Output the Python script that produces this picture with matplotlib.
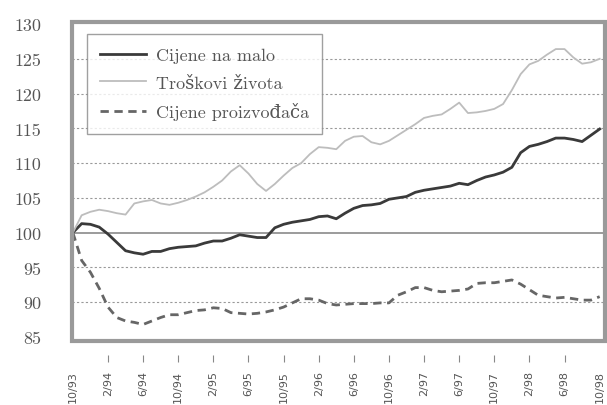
import matplotlib
matplotlib.use("Agg")
import matplotlib.pyplot as plt
from matplotlib.patches import Rectangle

months = list(range(61))
tick_labels = ["10/93", "2/94", "6/94", "10/94", "2/95", "6/95", "10/95", "2/96",
               "6/96", "10/96", "2/97", "6/97", "10/97", "2/98", "6/98", "10/98"]

cijene_malo = [100.0, 101.3, 101.2, 100.8, 99.8, 98.6, 97.4, 97.1, 96.9, 97.3,
               97.3, 97.7, 97.9, 98.0, 98.1, 98.5, 98.8, 98.8, 99.2, 99.7,
               99.5, 99.3, 99.3, 100.7, 101.2, 101.5, 101.7, 101.9, 102.3, 102.4,
               102.0, 102.8, 103.5, 103.9, 104.0, 104.2, 104.8, 105.0, 105.2, 105.8,
               106.1, 106.3, 106.5, 106.7, 107.1, 106.9, 107.5, 108.0, 108.3, 108.7,
               109.4, 111.5, 112.4, 112.7, 113.1, 113.6, 113.6, 113.4, 113.1, 114.0,
               114.9]

troskovi = [100.0, 102.5, 103.0, 103.3, 103.1, 102.8, 102.6, 104.2, 104.5, 104.7,
            104.2, 104.0, 104.3, 104.7, 105.2, 105.8, 106.6, 107.5, 108.8, 109.7,
            108.5, 107.0, 106.0, 107.0, 108.2, 109.3, 110.0, 111.3, 112.3, 112.2,
            112.0, 113.2, 113.8, 113.9, 113.0, 112.7, 113.2, 114.0, 114.8, 115.6,
            116.5, 116.8, 117.0, 117.8, 118.7, 117.2, 117.3, 117.5, 117.8, 118.5,
            120.5, 122.8, 124.2, 124.7, 125.6, 126.4, 126.4, 125.2, 124.3, 124.5,
            125.0]

proizvodaci = [100.0, 96.0, 94.3, 92.0, 89.3, 87.8, 87.3, 87.1, 86.8, 87.3,
               87.8, 88.2, 88.2, 88.5, 88.8, 88.9, 89.2, 89.1, 88.5, 88.4,
               88.3, 88.4, 88.6, 88.9, 89.3, 89.9, 90.5, 90.5, 90.3, 89.8,
               89.6, 89.7, 89.8, 89.8, 89.8, 89.9, 89.9, 91.0, 91.5, 92.1,
               92.1, 91.7, 91.5, 91.6, 91.7, 91.9, 92.7, 92.8, 92.8, 93.0,
               93.2, 92.6, 91.8, 91.0, 90.8, 90.6, 90.7, 90.5, 90.3, 90.3,
               90.8]

yticks = [85, 90, 95, 100, 105, 110, 115, 120, 125, 130]
serif = ["cmr10", "DejaVu Serif"]

fig = plt.figure(figsize=(6.07, 4.06), dpi=100)
ax = fig.add_axes([0.1186, 0.1576, 0.878, 0.7857])

# grid lines
for v in [90, 95, 105, 110, 115, 120, 125]:
    ax.axhline(v, color="#999999", lw=0.8, ls=(0, (2, 2)), zorder=1)
ax.axhline(100, color="#8a8a8a", lw=1.2, zorder=1)

ax.plot(months, cijene_malo, color="#3a3a3a", lw=2.0, label="Cijene na malo", zorder=3)
ax.plot(months, troskovi, color="#bdbdbd", lw=1.3, label="Troškovi života", zorder=3)
ax.plot(months, proizvodaci, color="#666666", lw=2.0, ls=(0, (3, 2)),
        label="Cijene proizvođača", zorder=3)

ax.set_xlim(-0.1, 60.6)
ax.set_ylim(84.42, 130.29)

for s in ax.spines.values():
    s.set_visible(False)
ax.add_patch(Rectangle((0, 0), 1, 1, transform=ax.transAxes, fill=False,
                       edgecolor="#9a9a9a", lw=3, clip_on=False, zorder=5))
ax.spines["bottom"].set_position(("outward", 10))

ax.set_xticks(months[::4])
ax.set_xticklabels(tick_labels, rotation=90, fontsize=8, color="#555555")
ax.tick_params(axis="x", direction="out", length=5, width=0.8, color="#888888", pad=6)
ticks = ax.xaxis.get_major_ticks()
ticks[0].tick1line.set_visible(False)
ticks[-1].tick1line.set_visible(False)

ax.set_yticks(yticks)
ax.set_yticklabels([str(v) for v in yticks], fontsize=13, color="#555555", family=serif)
ax.tick_params(axis="y", length=0, pad=22)

leg = ax.legend(loc="upper left", bbox_to_anchor=(0.028, 0.962), borderaxespad=0,
                fancybox=False, edgecolor="#888888", handlelength=2.5,
                handletextpad=0.55, labelspacing=0.65, borderpad=0.75,
                prop={"family": serif, "size": 13})
leg.get_frame().set_linewidth(1.0)
for t in leg.get_texts():
    t.set_color("#555555")

fig.savefig("out.png", dpi=100)
